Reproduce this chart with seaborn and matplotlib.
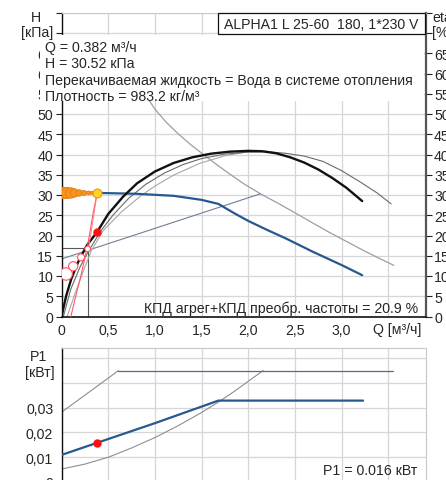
import numpy as np
import matplotlib
matplotlib.use("Agg")
import matplotlib.pyplot as plt
from matplotlib.patches import Rectangle
import seaborn as sns

# ---------------- data ----------------
# efficiency curves (eta %, same scale as H)
eta_q = [0, 0.05, 0.105, 0.177, 0.27, 0.382, 0.5, 0.66, 0.81, 1.0, 1.2, 1.4, 1.6, 1.8, 2.0, 2.15, 2.3, 2.45, 2.6, 2.75, 2.9, 3.05, 3.22]
eta_v = [0, 5.1, 9.3, 13.4, 17.5, 20.9, 25.3, 29.6, 32.9, 35.8, 37.9, 39.3, 40.2, 40.7, 40.9, 40.8, 40.3, 39.3, 38.0, 36.3, 34.2, 31.8, 28.5]

eta2_q = [0.02, 0.1, 0.2, 0.3, 0.43, 0.55, 0.72, 0.9, 1.1, 1.3, 1.5, 1.75, 2.0, 2.2, 2.4, 2.6, 2.8, 3.0, 3.2, 3.38, 3.53]
eta2_v = [0, 6.8, 12.3, 16.6, 21.4, 25.0, 29.2, 32.6, 35.4, 37.5, 39.0, 40.1, 40.6, 40.7, 40.3, 39.6, 38.3, 36.0, 33.2, 30.5, 27.8]

eta3_q = [0.06, 0.15, 0.25, 0.32, 0.45, 0.65, 0.85, 1.0, 1.2, 1.48, 1.75, 1.95, 2.2]
eta3_v = [0, 6.0, 12.2, 16.3, 21.3, 26.0, 29.8, 32.2, 34.9, 37.8, 39.7, 40.5, 40.8]

# pump curve (H kPa)
pump_q = [0, 0.382, 0.8, 1.2, 1.5, 1.68, 1.85, 2.0, 2.2, 2.4, 2.69, 3.0, 3.22]
pump_h = [30.6, 30.52, 30.3, 29.8, 28.8, 27.8, 25.5, 23.6, 21.4, 19.3, 16.0, 12.7, 10.2]

# max curve
max_q = [0.8, 0.92, 1.0, 1.12, 1.25, 1.38, 1.52, 1.65, 1.8, 1.95, 2.13, 2.34, 2.5, 2.69, 2.85, 2.98, 3.12, 3.25, 3.4, 3.56]
max_h = [59.0, 54.0, 51.2, 48.0, 45.1, 42.5, 40.0, 37.7, 35.2, 32.8, 30.3, 27.7, 25.6, 23.1, 21.0, 19.4, 17.7, 16.1, 14.4, 12.6]

# proportional pressure line
prop_q = [0, 2.13]
prop_h = [14.2, 30.3]

# system curve (pink)
sys_q = [0.10, 0.15, 0.20, 0.24, 0.28, 0.31, 0.34, 0.362, 0.382]
sys_h = [0, 4.8, 9.3, 13.4, 17.5, 21.6, 25.7, 28.2, 30.52]
sys2_q = [0.29, 0.382]
sys2_h = [16.8, 30.52]

# min-point guide lines
guide_q = [0, 0.28, 0.28]
guide_h = [16.8, 16.8, 0]

# markers
trail_q = [0.02, 0.06, 0.10, 0.14, 0.19, 0.24, 0.29, 0.33]
trail_h = [30.5, 30.5, 30.5, 30.5, 30.5, 30.5, 30.5, 30.5]
trail_r = [5.6, 5.6, 5.2, 4.2, 3.2, 2.5, 2.0, 1.6]
duty_q = 0.382
duty_h = 30.52
duty_eta = 20.9
open_q = [0.05, 0.125, 0.21, 0.28]
open_h = [10.5, 12.4, 14.6, 16.7]
open_r = [6.2, 4.6, 3.5, 2.8]

# power (kW)
p1_q = [0, 0.382, 1.0, 1.68, 3.23]
p1_v = [0.0109, 0.0158, 0.0237, 0.0328, 0.0328]
pmax_q = [0, 0.61]
pmax_v = [0.0281, 0.0449]
pflat_q = [0.61, 3.55]
pflat_v = [0.0449, 0.0449]
plow_q = [0, 0.25, 0.51, 0.75, 1.0, 1.25, 1.5, 1.68, 1.85, 2.0, 2.16]
plow_v = [0.0052, 0.0072, 0.0101, 0.0137, 0.0179, 0.0227, 0.0280, 0.0322, 0.0365, 0.0406, 0.0449]
duty_p = 0.0158

xticks = [0, 0.5, 1.0, 1.5, 2.0, 2.5, 3.0, 3.5]
xlabels = ["0", "0,5", "1,0", "1,5", "2,0", "2,5", "3,0", ""]
hticks = list(range(0, 80, 5))
hlabels = [str(v) for v in hticks[:-2]] + ["", ""]
pticks = [0, 0.01, 0.02, 0.03, 0.04, 0.05]
plabels = ["0", "0,01", "0,02", "0,03", "", ""]

# ---------------- style ----------------
sns.set_style("white")
plt.rcParams['font.family'] = ['Liberation Sans', 'DejaVu Sans']
FS = 10.2
W, H = 446, 481

fig = plt.figure(figsize=(W / 100, H / 100), dpi=100)

def fx(px):
    return px / W

def fy(py):
    return 1 - py / H

ax = fig.add_axes([fx(61.5), fy(317.5), (425.7 - 61.5) / W, (317.5 - 13.75) / H])
ax2 = fig.add_axes([fx(61.5), fy(495), (425.7 - 61.5) / W, (495 - 349) / H])

GRID = '#d6d6d6'
BLUE = '#27588f'

for a in (ax, ax2):
    a.set_xlim(0, 3.9)
    a.set_xticks(xticks)
    a.grid(True, color=GRID, lw=0.9)
    a.set_axisbelow(True)
    for s in ('top', 'right', 'bottom'):
        a.spines[s].set_color('#c8c8c8')
        a.spines[s].set_linewidth(0.8)
    a.spines['left'].set_color('#111111')
    a.spines['left'].set_linewidth(1.0)

# ---- top axes ----
ax.set_ylim(0, 75)
ax.set_yticks(hticks)
ax.set_yticklabels(hlabels, fontsize=FS)
ax.set_xticklabels(xlabels, fontsize=FS)
ax.tick_params(axis='x', length=0, pad=5)
ax.tick_params(axis='y', length=4, width=0.8, color='#222222', pad=2,
               right=True, labelright=True, left=True, labelleft=True)
ax.spines['right'].set_color('#555555')
ax.spines['right'].set_linewidth(1.6)
ax.spines['bottom'].set_color('#111111')
ax.spines['bottom'].set_linewidth(1.2)

def line(a, x, y, color, lw, z=2):
    sns.lineplot(x=x, y=y, ax=a, color=color, lw=lw, sort=False, estimator=None, zorder=z)

line(ax, max_q, max_h, '#9d9daa', 0.9)
line(ax, prop_q, prop_h, '#6f7f98', 0.8)
line(ax, guide_q, guide_h, '#5a5a5a', 0.8)
line(ax, eta3_q, eta3_v, '#a8a8a8', 0.8)
line(ax, eta2_q, eta2_v, '#6a6a6a', 0.8)
line(ax, pump_q, pump_h, BLUE, 1.6)
line(ax, eta_q, eta_v, '#111111', 1.7, z=3)
line(ax, sys_q, sys_h, '#ff5a6a', 0.8, z=4)
line(ax, sys2_q, sys2_h, '#ff7a88', 0.7, z=4)

def s_of(r):
    return (2 * r * 0.72) ** 2

sns.scatterplot(x=trail_q, y=trail_h, ax=ax, s=[s_of(r) for r in trail_r], color='#f7941d',
                edgecolor='#e87a10', linewidth=0.6, zorder=5, legend=False)
sns.scatterplot(x=[duty_q], y=[duty_h], ax=ax, s=s_of(4.4), color='#ffd324',
                edgecolor='#f59a1a', linewidth=0.9, zorder=6, legend=False)
sns.scatterplot(x=open_q, y=open_h, ax=ax, s=[s_of(r) for r in open_r], color='white',
                edgecolor='#ff5060', linewidth=0.8, zorder=5, legend=False)
sns.scatterplot(x=[duty_q], y=[duty_eta], ax=ax, s=s_of(4.2), color='#ff1010',
                linewidth=0, zorder=6, legend=False)

fig.text(fx(418), fy(309), "КПД агрег+КПД преобр. частоты = 20.9 %", fontsize=FS,
         ha='right', va='center', zorder=12)
fig.text(fx(397), fy(330), "Q [м³/ч]", fontsize=FS, ha='center', va='center')

# ---- bottom axes ----
ax2.set_ylim(-0.00484, 0.054)
ax2.set_yticks(pticks)
ax2.set_yticklabels(plabels, fontsize=FS)
ax2.set_xticklabels([])
ax2.tick_params(axis='x', length=0)
ax2.tick_params(axis='y', length=4, width=0.8, color='#222222', pad=2)

line(ax2, plow_q, plow_v, '#8e8e8e', 0.8)
line(ax2, pmax_q, pmax_v, '#8e8e8e', 0.8)
line(ax2, pflat_q, pflat_v, '#4d6d92', 0.9)
line(ax2, p1_q, p1_v, BLUE, 1.6, z=3)
sns.scatterplot(x=[duty_q], y=[duty_p], ax=ax2, s=s_of(4.2), color='#ff1010',
                linewidth=0, zorder=6, legend=False)

fig.text(fx(417), fy(471.5), "P1 = 0.016 кВт", fontsize=FS, ha='right', va='center')
fig.text(fx(39), fy(357), "P1", fontsize=FS, ha='center', va='center')
fig.text(fx(40), fy(373), "[кВт]", fontsize=FS, ha='center', va='center')

# ---- overlays on top chart ----
fig.add_artist(Rectangle((fx(40), fy(102)), (424 - 40) / W, (102 - 36) / H,
                         transform=fig.transFigure, facecolor='white', edgecolor='none', zorder=10))
fig.add_artist(Rectangle((fx(218), fy(35)), (425 - 218) / W, (35 - 14) / H,
                         transform=fig.transFigure, facecolor='white', edgecolor='#111111',
                         lw=0.9, zorder=10))
fig.text(fx(321.5), fy(25), "ALPHA1 L 25-60  180, 1*230 V", fontsize=FS, ha='center', va='center', zorder=12)

info = [("Q = 0.382 м³/ч", 48.3), ("H = 30.52 кПа", 63.5),
        ("Перекачиваемая жидкость = Вода в системе отопления", 80.5),
        ("Плотность = 983.2 кг/м³", 97)]
for t, y in info:
    fig.text(fx(45), fy(y), t, fontsize=FS, ha='left', va='center', zorder=12)

fig.text(fx(36), fy(18), "H", fontsize=FS, ha='center', va='center')
fig.text(fx(37), fy(33), "[кПа]", fontsize=FS, ha='center', va='center', zorder=12)
fig.text(fx(432), fy(18), "eta", fontsize=FS, ha='left', va='center')
fig.text(fx(432), fy(33), "[%]", fontsize=FS, ha='left', va='center', zorder=12)

fig.savefig("out.png", dpi=100)
